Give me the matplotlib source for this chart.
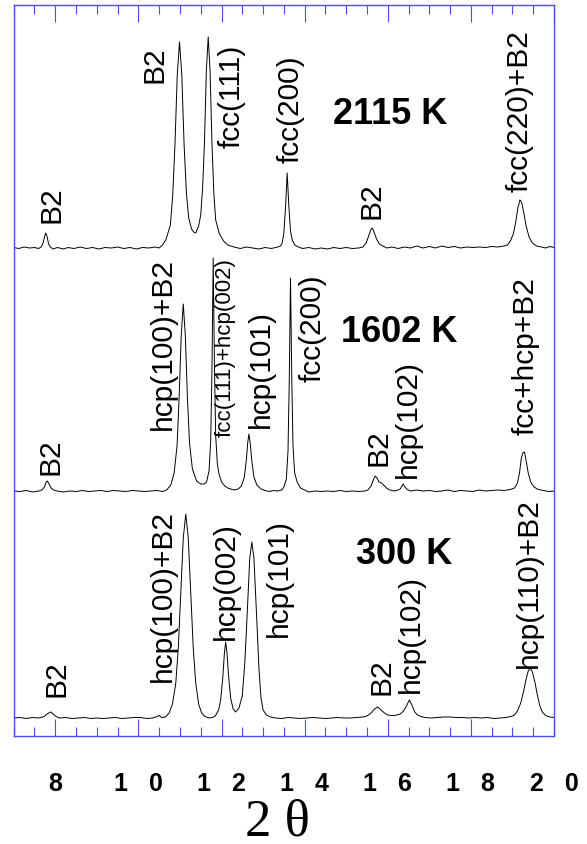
import numpy as np
import matplotlib.pyplot as plt
from matplotlib.ticker import MultipleLocator

# (2theta, counts above baseline)
pts_2115 = [
    (7.00, 0.5), (7.12, -0.5), (7.25, 1), (7.38, 0), (7.50, 0.5), (7.60, -0.5),
    (7.66, 1), (7.70, 4), (7.74, 11), (7.77, 15), (7.80, 12), (7.84, 4), (7.88, 1),
    (7.95, -1), (8.05, 0.5), (8.20, -1), (8.30, 0.5), (8.45, -0.5), (8.60, 1),
    (8.75, -0.5), (8.90, 0.5), (9.05, -1), (9.20, 0.5), (9.35, 0), (9.50, 1),
    (9.65, -0.5), (9.80, 0.5), (9.95, -1), (10.10, 0.5), (10.25, 0), (10.40, 1),
    (10.50, 0), (10.58, 3), (10.66, 8), (10.77, 23), (10.825, 52), (10.88, 103),
    (10.935, 173), (10.99, 206), (11.045, 173), (11.10, 103), (11.155, 55),
    (11.21, 30), (11.28, 19), (11.33, 16), (11.38, 15), (11.45, 22), (11.50, 33),
    (11.545, 60), (11.59, 105), (11.635, 177), (11.68, 211), (11.725, 177),
    (11.77, 105), (11.815, 55), (11.86, 28), (11.95, 14), (12.05, 7), (12.15, 3),
    (12.30, 1), (12.45, -0.5), (12.60, 1), (12.75, 0), (12.90, -1), (13.05, 0.5),
    (13.20, -0.5), (13.35, 1), (13.42, 2), (13.46, 5), (13.50, 15), (13.54, 40),
    (13.58, 75), (13.62, 42), (13.66, 17), (13.70, 8), (13.76, 3), (13.85, 1),
    (13.95, -0.5), (14.10, 0.5), (14.25, -1), (14.40, 0), (14.55, -1), (14.70, 0.5),
    (14.85, -0.5), (15.00, 0.5), (15.15, -0.5), (15.30, 0), (15.40, 1), (15.48, 5),
    (15.55, 13), (15.60, 19), (15.63, 20), (15.67, 16), (15.73, 9), (15.80, 4),
    (15.88, 2), (15.98, 0), (16.10, 1), (16.25, -0.5), (16.40, 1), (16.55, 0),
    (16.70, 2), (16.85, 0), (17.00, 1.5), (17.15, 0), (17.30, 2), (17.45, 0.5),
    (17.60, 1.5), (17.75, 0), (17.90, 1), (18.05, 0.5), (18.20, 1), (18.35, 0.5),
    (18.50, 1.5), (18.65, 1), (18.80, 2), (18.88, 3), (18.95, 7), (19.02, 14),
    (19.08, 26), (19.13, 40), (19.18, 48), (19.22, 46), (19.27, 36), (19.33, 22),
    (19.40, 11), (19.48, 5), (19.58, 2), (19.70, 1), (19.80, 0), (19.90, 1.5),
    (20.00, 0.5),
]

pts_1602 = [
    (7.00, 0), (7.15, -0.5), (7.30, 0.5), (7.45, -1), (7.60, 0), (7.68, 1),
    (7.74, 4), (7.78, 9), (7.81, 10), (7.85, 7), (7.90, 3), (7.96, 1), (8.05, 0),
    (8.20, -1), (8.35, 0), (8.50, -0.5), (8.65, 0.5), (8.80, -0.5), (8.95, 0),
    (9.10, 0.5), (9.25, -0.5), (9.40, 0.5), (9.55, 0), (9.70, -0.5), (9.85, 0.5),
    (10.00, 0), (10.15, -0.5), (10.30, 0), (10.45, 0.5), (10.58, -0.5), (10.68, 1),
    (10.78, 6), (10.86, 18), (10.93, 45), (10.98, 93), (11.03, 155), (11.08, 187),
    (11.13, 155), (11.18, 93), (11.23, 48), (11.30, 22), (11.40, 10), (11.50, 7),
    (11.58, 7), (11.64, 9), (11.70, 20), (11.74, 50), (11.77, 120), (11.80, 233),
    (11.83, 125), (11.86, 55), (11.90, 27), (11.94, 17), (12.00, 9), (12.08, 5),
    (12.15, 3), (12.22, 2), (12.30, 1), (12.40, 2), (12.48, 5), (12.55, 14),
    (12.60, 32), (12.63, 48), (12.66, 57), (12.69, 48), (12.73, 30), (12.78, 14),
    (12.85, 6), (12.95, 2), (13.05, 0.5), (13.15, -0.5), (13.25, 0.5), (13.35, 0),
    (13.45, 1), (13.50, 4), (13.56, 12), (13.60, 40), (13.63, 110), (13.66, 213),
    (13.69, 115), (13.72, 45), (13.76, 18), (13.82, 9), (13.90, 3), (14.00, 1),
    (14.10, -1), (14.25, 0), (14.40, -0.5), (14.55, 0), (14.70, -0.5), (14.85, 0.5),
    (15.00, -0.5), (15.15, 0), (15.30, -0.5), (15.45, 0), (15.52, 1), (15.60, 5),
    (15.66, 12), (15.70, 15), (15.74, 13), (15.79, 9), (15.85, 8), (15.90, 6),
    (15.97, 3), (16.05, 1), (16.15, 0), (16.25, 1), (16.30, 2), (16.34, 5),
    (16.37, 7), (16.41, 4), (16.47, 1.5), (16.55, 0), (16.70, 1), (16.85, 0),
    (17.00, 0.5), (17.15, -0.5), (17.30, 0), (17.45, 1), (17.60, -0.5), (17.75, 0.5),
    (17.90, 0), (18.05, -0.5), (18.20, 1), (18.35, 0), (18.50, 0.5), (18.65, 1),
    (18.80, 0.5), (18.95, 1.5), (19.05, 3), (19.12, 8), (19.17, 18), (19.21, 32),
    (19.25, 38), (19.29, 39), (19.33, 30), (19.38, 18), (19.44, 9), (19.52, 4),
    (19.62, 1.5), (19.75, 0.5), (19.88, -0.5), (20.00, 0),
]

pts_300 = [
    (7.00, 0), (7.15, 0.5), (7.30, -0.5), (7.45, 0.5), (7.60, 0), (7.70, 1),
    (7.75, 2), (7.82, 4.5), (7.89, 6), (7.95, 4), (8.02, 1.5), (8.10, 0),
    (8.25, 0.5), (8.40, -0.5), (8.55, 0), (8.70, 0.5), (8.85, -0.5), (9.00, 0),
    (9.15, -0.5), (9.30, 0), (9.45, 0.5), (9.60, -0.5), (9.75, 0), (9.90, 0.5),
    (10.05, 0.5), (10.20, -0.5), (10.35, 0), (10.45, 1.5), (10.50, 2.5),
    (10.56, 0.5), (10.65, 1), (10.74, 5), (10.82, 14), (10.90, 35), (10.96, 70),
    (11.02, 125), (11.08, 180), (11.14, 204), (11.20, 180), (11.26, 125),
    (11.32, 70), (11.38, 35), (11.45, 14), (11.52, 5), (11.60, 1.5), (11.70, 0),
    (11.78, 0.5), (11.85, 2), (11.93, 8), (11.98, 18), (12.03, 40), (12.07, 65),
    (12.10, 76), (12.13, 66), (12.17, 42), (12.22, 20), (12.28, 9), (12.34, 6),
    (12.42, 10), (12.50, 22), (12.56, 55), (12.60, 88), (12.64, 125), (12.68, 160),
    (12.73, 176), (12.78, 160), (12.82, 125), (12.86, 88), (12.90, 50), (12.95, 20),
    (13.00, 8), (13.08, 3), (13.18, 1), (13.30, 0), (13.45, -0.5), (13.60, 0.5),
    (13.75, 0), (13.90, -0.5), (14.05, 0), (14.20, 0.5), (14.35, 0), (14.50, -0.5),
    (14.65, 0), (14.80, 0.5), (14.95, 0), (15.10, 0), (15.25, 0.5), (15.40, 1),
    (15.50, 2), (15.60, 5), (15.68, 9), (15.76, 11), (15.84, 8), (15.92, 5),
    (16.00, 3), (16.08, 2.5), (16.14, 2.5), (16.22, 3), (16.30, 4), (16.38, 7),
    (16.45, 12), (16.52, 18), (16.58, 13), (16.65, 6), (16.72, 3), (16.80, 1.5),
    (16.90, 0.5), (17.05, 0), (17.20, 0.5), (17.35, 1), (17.50, 1), (17.65, 0.5),
    (17.80, 0.5), (17.95, 0), (18.10, 0.5), (18.25, 0), (18.40, 0.5), (18.55, -0.5),
    (18.70, 0), (18.85, 0.5), (19.00, 2), (19.05, 3), (19.12, 7), (19.20, 15),
    (19.27, 27), (19.33, 39), (19.38, 47), (19.43, 50), (19.48, 46), (19.54, 36),
    (19.60, 23), (19.66, 12), (19.72, 6), (19.80, 2.5), (19.90, 1), (20.00, 0.5),
]

temps = ['2115 K', '1602 K', '300 K']

# peak labels: (text, 2theta, height above baseline)
labels_2115 = [('B2', 7.90, 26), ('B2', 10.38, 166), ('fcc(111)', 12.24, 101),
               ('fcc(200)', 13.66, 86), ('B2', 15.62, 30), ('fcc(220)+B2', 19.18, 57)]
labels_1602 = [('B2', 7.89, 17), ('hcp(100)+B2', 10.60, 62),
               ('fcc(111)+hcp(002)', 12.08, 55), ('hcp(101)', 12.95, 64),
               ('fcc(200)', 14.19, 110), ('B2', 15.78, 26), ('hcp(102)', 16.48, 14),
               ('fcc+hcp+B2', 19.31, 57)]
labels_300 = [('B2', 8.03, 22), ('hcp(100)+B2', 10.58, 37), ('hcp(002)', 12.10, 79),
              ('hcp(101)', 13.39, 82), ('B2', 15.86, 24), ('hcp(102)', 16.56, 26),
              ('hcp(110)+B2', 19.40, 51)]

tick_vals = [8, 10, 12, 14, 16, 18, 20]
tick_text = ['8', '1   0', '1   2', '1   4', '1   6', '1   8', '2   0']

# vertical stacking of the patterns
offsets = [488, 245, 18]
temp_pos = [(16.06, 135), (16.28, 160), (16.39, 165)]

frame_blue = '#4a4af8'
sans = 'Liberation Sans'

fig = plt.figure(figsize=(5.87, 8.45), dpi=100)
ax = fig.add_axes([13.7 / 587, 108 / 845, 540.3 / 587, 731 / 845])

patterns = [pts_2115, pts_1602, pts_300]
all_labels = [labels_2115, labels_1602, labels_300]
for pts, off, lab, temp, (tx, ty) in zip(patterns, offsets, all_labels, temps, temp_pos):
    arr = np.array(pts)
    ax.plot(arr[:, 0], arr[:, 1] + off, color='black', lw=0.7)
    for text, x, h in lab:
        size = 16 if len(text) > 12 else 21.5
        ax.text(x, off + h, text, rotation=90, ha='center', va='bottom',
                fontsize=size, family=sans)
    ax.text(tx, off + ty, temp, ha='center', va='center', fontsize=26,
            fontweight='bold', family=sans)

ax.set_xlim(7, 20)
ax.set_ylim(0, 731)
ax.set_yticks([])
ax.set_xticks(tick_vals)
ax.set_xticklabels(tick_text, fontsize=18, fontweight='bold', family=sans)
ax.xaxis.set_minor_locator(MultipleLocator(0.5))
ax.tick_params(axis='x', which='both', direction='in', top=True, bottom=True,
               color=frame_blue, width=0.8, pad=25)
ax.tick_params(axis='x', which='major', length=12.2)
ax.tick_params(axis='x', which='minor', length=6.5)
for sp in ax.spines.values():
    sp.set_color(frame_blue)
    sp.set_linewidth(1.0)

ax.set_xlabel('2 θ', family='Liberation Serif', fontsize=38, labelpad=2)
ax.xaxis.label.set_x(0.489)

fig.savefig('out.png', dpi=100)
